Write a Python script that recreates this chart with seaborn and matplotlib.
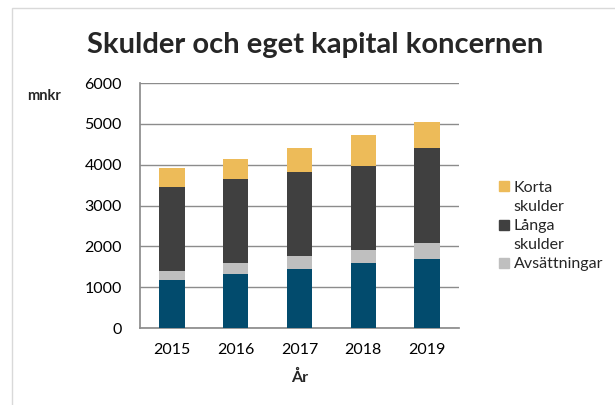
import matplotlib
matplotlib.use("Agg")
import matplotlib.pyplot as plt
from matplotlib.patches import Patch, Rectangle
import pandas as pd
import seaborn as sns

# data (mnkr)
years = ["2015", "2016", "2017", "2018", "2019"]
eget_kapital = [1170, 1320, 1450, 1590, 1680]
avsattningar = [230, 270, 320, 310, 390]
langa_skulder = [2050, 2050, 2050, 2060, 2340]
korta_skulder = [460, 500, 590, 760, 635]

colors = {"blue": "#024B6D", "gray": "#BFBFBF", "dark": "#404040", "yellow": "#EDBB59"}

sns.set_theme(style="white")
plt.rcParams["font.family"] = ["Lato", "DejaVu Sans"]

df = pd.DataFrame({"year": years, "eget": eget_kapital, "avs": avsattningar,
                   "langa": langa_skulder, "korta": korta_skulder})
df["c1"] = df["eget"]
df["c2"] = df["c1"] + df["avs"]
df["c3"] = df["c2"] + df["langa"]
df["c4"] = df["c3"] + df["korta"]

fig = plt.figure(figsize=(6.15, 4.05), dpi=100)
ax = fig.add_axes([0.2276, 0.1901, 0.5187, 0.6049])

# stacked bars: draw cumulative totals from top to bottom
for col, c in [("c4", "yellow"), ("c3", "dark"), ("c2", "gray"), ("c1", "blue")]:
    sns.barplot(data=df, x="year", y=col, color=colors[c], width=0.4,
                saturation=1, linewidth=0, ax=ax, zorder=3)

ax.set_ylim(0, 6000)
ax.set_xlim(-0.5, 4.5)
ax.set_yticks(range(0, 6001, 1000))
ax.yaxis.grid(True, color="#8c8c8c", linewidth=1)
ax.set_axisbelow(True)
for s in ["top", "right"]:
    ax.spines[s].set_visible(False)
ax.spines["left"].set_color("#8c8c8c")
ax.spines["bottom"].set_color("#8c8c8c")
ax.tick_params(axis="y", length=6, color="#8c8c8c", width=1, pad=7, labelsize=11.5, labelcolor="black")
ax.tick_params(axis="x", which="major", length=0, pad=11, labelsize=11.5, labelcolor="black")
ax.set_xticks([i - 0.5 for i in range(6)], minor=True)
ax.tick_params(axis="x", which="minor", length=5, color="#8c8c8c", width=1)

ax.set_xlabel("År", fontweight="bold", fontsize=11.5, labelpad=9)
ax.set_ylabel("mnkr", fontweight="bold", fontsize=10.5, rotation=0)
ax.yaxis.set_label_coords(-0.30, 0.92)

fig.text(315 / 615, 0.889, "Skulder och eget kapital koncernen", ha="center", va="center",
         fontsize=21, fontweight="bold")

blank = Patch(facecolor="none", edgecolor="none")
handles = [Patch(color=colors["yellow"]), blank, Patch(color=colors["dark"]), blank,
           Patch(color=colors["gray"])]
labels = ["Korta", "skulder", "Långa", "skulder", "Avsättningar"]
fig.legend(handles, labels, loc="upper left", bbox_to_anchor=(0.812, 0.553), frameon=False,
           fontsize=11.5, handlelength=0.6, handleheight=0.6, handletextpad=0.3,
           labelspacing=0.32, borderaxespad=0, borderpad=0)

# chart frame
fig.add_artist(Rectangle((12 / 615, -0.1), 1.2, (405 - 8) / 405 + 0.1, transform=fig.transFigure,
                         fill=False, edgecolor="#d9d9d9", linewidth=1))

fig.savefig("out.png", dpi=100)
